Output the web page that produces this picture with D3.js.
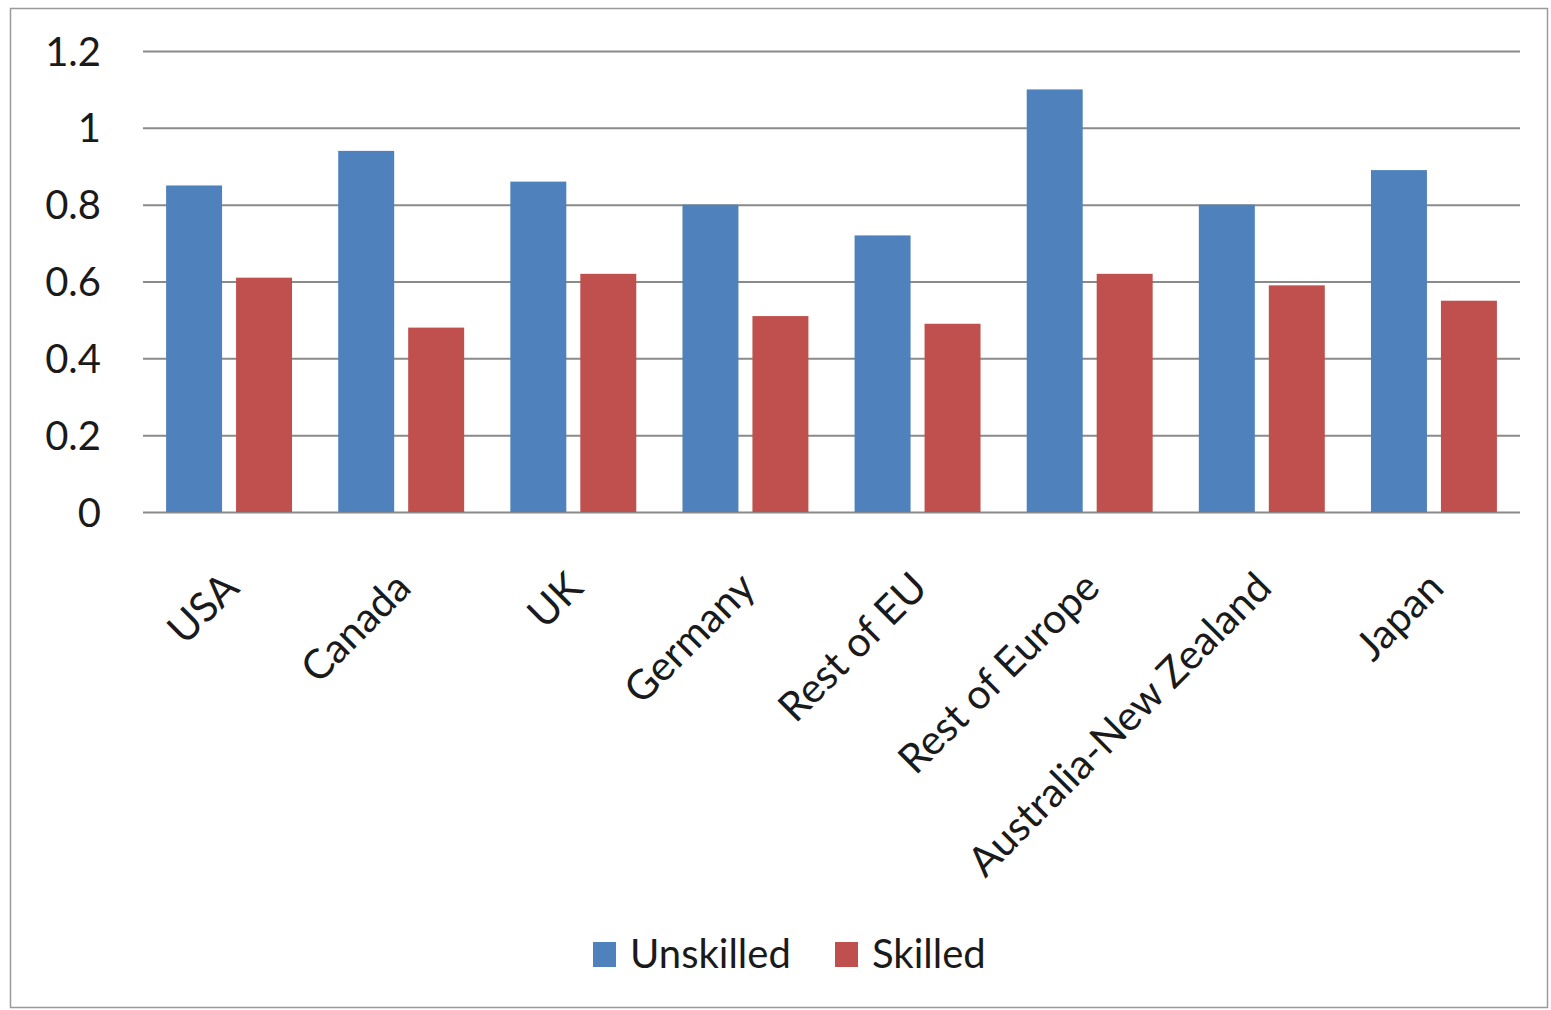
<!DOCTYPE html>
<html>
<head>
<meta charset="utf-8">
<script src="https://cdn.jsdelivr.net/npm/d3@7"></script>
<style>
  html, body { margin: 0; padding: 0; background: #ffffff; }
  svg { display: block; }
  text { font-family: Lato, "Open Sans", sans-serif; fill: #1a1a1a; }
</style>
</head>
<body>
<svg id="chart" width="1551" height="1010"></svg>
<script>
// Wage elasticity by region and skill group
const regions = ["USA", "Canada", "UK", "Germany", "Rest of EU", "Rest of Europe", "Australia-New Zealand", "Japan"];
const seriesNames = ["Unskilled", "Skilled"];
const unskilled = [0.85, 0.94, 0.86, 0.80, 0.72, 1.10, 0.80, 0.89];
const skilled   = [0.61, 0.48, 0.62, 0.51, 0.49, 0.62, 0.59, 0.55];
const yTicks = [0, 0.2, 0.4, 0.6, 0.8, 1, 1.2];
const colors = { Unskilled: "#4f81bd", Skilled: "#c0504d" };

const svg = d3.select("#chart");
const plot = { left: 143, right: 1520, top: 51, bottom: 512 };

// outer chart frame
svg.append("rect")
  .attr("x", 10.5).attr("y", 8.5)
  .attr("width", 1537).attr("height", 999)
  .attr("fill", "#ffffff")
  .attr("stroke", "#9a9a9a").attr("stroke-width", 1.5);

const y = d3.scaleLinear().domain([0, 1.2]).range([plot.bottom, plot.top]);
const x0 = d3.scaleBand().domain(regions).range([plot.left, plot.right]).padding(0);
const x1 = d3.scaleBand().domain(seriesNames).range([0, x0.bandwidth()])
  .paddingInner(0.2).paddingOuter(0.33);

// horizontal gridlines and value labels
const yAxis = d3.axisLeft(y).tickValues(yTicks)
  .tickSize(-(plot.right - plot.left)).tickPadding(42)
  .tickFormat(d => d3.format("")(+d.toFixed(1)));
const gy = svg.append("g").attr("transform", `translate(${plot.left},0)`).call(yAxis);
gy.select(".domain").remove();
gy.selectAll(".tick line").attr("stroke", "#8a8a8a").attr("stroke-width", 2);
gy.selectAll(".tick text")
  .style("font-size", "40px").attr("fill", "#1a1a1a").attr("dy", "0.35em");

// bars
const rows = regions.map((r, i) => ({ region: r, values: [
  { key: "Unskilled", value: unskilled[i] },
  { key: "Skilled", value: skilled[i] }
]}));

const groups = svg.append("g").selectAll("g").data(rows).join("g")
  .attr("transform", d => `translate(${x0(d.region)},0)`);
groups.selectAll("rect").data(d => d.values).join("rect")
  .attr("x", d => x1(d.key))
  .attr("width", x1.bandwidth())
  .attr("y", d => y(d.value))
  .attr("height", d => y(0) - y(d.value))
  .attr("fill", d => colors[d.key]);

// category labels, rotated
const xAxis = d3.axisBottom(x0).tickSize(0).tickPadding(0);
const gx = svg.append("g").attr("transform", `translate(0,${plot.bottom})`).call(xAxis);
gx.select(".domain").remove();
gx.selectAll(".tick text")
  .style("font-size", "41px").attr("fill", "#1a1a1a")
  .attr("text-anchor", "end").attr("dy", null).attr("y", 0)
  .attr("transform", "translate(12,78) rotate(-45)");

// legend
const legend = svg.append("g");
const legendItems = [
  { key: "Unskilled", sx: 593, tx: 630 },
  { key: "Skilled", sx: 835, tx: 872 }
];
legend.selectAll("rect").data(legendItems).join("rect")
  .attr("x", d => d.sx).attr("y", 942)
  .attr("width", 23).attr("height", 25)
  .attr("fill", d => colors[d.key]);
legend.selectAll("text").data(legendItems).join("text")
  .attr("x", d => d.tx).attr("y", 968)
  .style("font-size", "40px")
  .text(d => d.key);
</script>
</body>
</html>
